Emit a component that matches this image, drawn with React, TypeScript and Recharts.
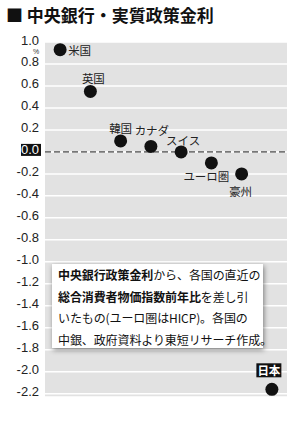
import { ScatterChart, Scatter, XAxis, YAxis, CartesianGrid, ReferenceLine } from 'recharts';

const categories = ['米国', '英国', '韓国', 'カナダ', 'スイス', 'ユーロ圏', '豪州', '日本'];
const realRates = [0.93, 0.55, 0.1, 0.05, 0.0, -0.1, -0.2, -2.16];
const yTicks = [1.0, 0.8, 0.6, 0.4, 0.2, 0.0, -0.2, -0.4, -0.6, -0.8, -1.0, -1.2, -1.4, -1.6, -1.8, -2.0, -2.2];

const data = categories.map((name, i) => ({ name, value: realRates[i] }));

const JP = '"Noto Sans CJK JP", "Noto Sans", sans-serif';
const NUM = '"Liberation Sans Narrow", "Liberation Sans", Arial, sans-serif';

// label offsets from each dot centre
const labelPos: Record<string, { dx: number; dy: number; anchor: string }> = {
	米国: { dx: 8, dy: 0, anchor: 'start' },
	英国: { dx: 3, dy: -13, anchor: 'middle' },
	韓国: { dx: 0, dy: -13, anchor: 'middle' },
	カナダ: { dx: 1, dy: -16, anchor: 'middle' },
	スイス: { dx: 2, dy: -12, anchor: 'middle' },
	ユーロ圏: { dx: -5, dy: 13, anchor: 'middle' },
	豪州: { dx: -1, dy: 17, anchor: 'middle' },
	日本: { dx: -3, dy: -19, anchor: 'middle' },
};

function Dot(props: any) {
	const { cx, cy, payload } = props;
	const p = labelPos[payload.name];
	const lx = cx + p.dx;
	const ly = cy + p.dy;
	const isJapan = payload.name === '日本';
	return (
		<g>
			<circle cx={cx} cy={cy} r={6.5} fill="#111" />
			{isJapan && <rect x={lx - 12.5} y={ly - 7} width={25} height={14} fill="#111" />}
			<text
				x={lx}
				y={ly}
				textAnchor={p.anchor as any}
				dominantBaseline="central"
				fontFamily={JP}
				fontSize={11.5}
				fill={isJapan ? '#fff' : '#222'}
				fontWeight={isJapan ? 700 : 400}
			>
				{payload.name}
			</text>
		</g>
	);
}

function YTick(props: any) {
	const { y, payload } = props;
	const v: number = payload.value;
	const label = v.toFixed(1);
	const zero = v === 0;
	return (
		<g>
			{zero && <rect x={21} y={y - 8} width={20} height={12} fill="#111" />}
			<text
				x={39}
				y={y - 2}
				textAnchor="end"
				dominantBaseline="central"
				fontFamily={NUM}
				fontSize={13}
				fill={zero ? '#fff' : '#222'}
			>
				{label}
			</text>
		</g>
	);
}

export default function App() {
	return (
		<div style={styles.page}>
			<div style={styles.title}>■ 中央銀行・実質政策金利</div>
			<ScatterChart width={300} height={428} margin={{ top: 42, right: 13, bottom: 31, left: 0 }}>
				<CartesianGrid vertical={false} stroke="#fff" strokeWidth={1.5} fill="#e2e2e2" />
				<XAxis dataKey="name" type="category" hide />
				<YAxis
					dataKey="value"
					type="number"
					domain={[-2.23, 1.0]}
					ticks={yTicks}
					width={45}
					axisLine={false}
					tickLine={false}
					tick={<YTick />}
					interval={0}
				/>
				<ReferenceLine y={0} stroke="#777" strokeWidth={1.6} strokeDasharray="6 3" />
				<Scatter data={data} shape={<Dot />} isAnimationActive={false} />
			</ScatterChart>
			<div style={styles.pct}>%</div>
			<div style={styles.note}>
				<b>中央銀行政策金利</b>から、各国の直近の<br />
				<b>総合消費者物価指数前年比</b>を差し引<br />
				いたもの(ユーロ圏はHICP)。各国の<br />
				中銀、政府資料より東短リサーチ作成。
			</div>
		</div>
	);
}

const styles: Record<string, React.CSSProperties> = {
	page: {
		position: 'absolute',
		left: 0,
		top: 0,
		width: 300,
		height: 428,
		background: '#fff',
		overflow: 'hidden',
	},
	title: {
		position: 'absolute',
		left: 6,
		top: 5,
		fontFamily: JP,
		fontWeight: 700,
		fontSize: 17,
		lineHeight: '20px',
		color: '#111',
		whiteSpace: 'nowrap',
	},
	pct: {
		position: 'absolute',
		left: 33,
		top: 48,
		fontFamily: NUM,
		fontSize: 7,
		lineHeight: '7px',
		color: '#333',
	},
	note: {
		position: 'absolute',
		left: 52,
		top: 264,
		width: 211,
		height: 84,
		boxSizing: 'border-box',
		padding: '0 0 0 6px',
		background: '#fff',
		boxShadow: '1px 2px 5px rgba(0,0,0,0.45)',
		fontFamily: JP,
		fontSize: 12,
		lineHeight: '21.5px',
		color: '#111',
		whiteSpace: 'nowrap',
		letterSpacing: '-0.1px',
	},
};
